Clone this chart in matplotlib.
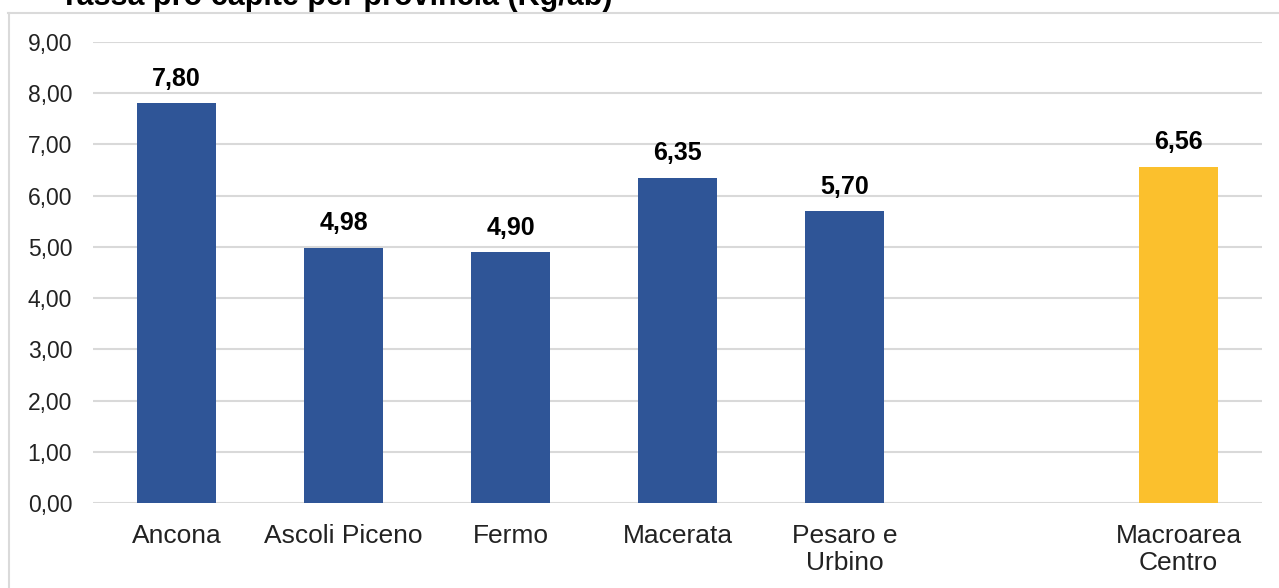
import matplotlib.pyplot as plt
from matplotlib.lines import Line2D

plt.rcParams['font.family'] = ['Liberation Sans', 'DejaVu Sans']

# data
categories = ['Ancona', 'Ascoli Piceno', 'Fermo', 'Macerata', 'Pesaro e\nUrbino', '', 'Macroarea\nCentro']
values = [7.80, 4.98, 4.90, 6.35, 5.70, None, 6.56]
colors = ['#2F5597', '#2F5597', '#2F5597', '#2F5597', '#2F5597', None, '#FBC02D']
yticks = [0, 1, 2, 3, 4, 5, 6, 7, 8, 9]

fig = plt.figure(figsize=(12.79, 5.88), dpi=100)
ax = fig.add_axes([93 / 1279, 1 - 503 / 588, (1262 - 93) / 1279, (503 - 42) / 588])

xs = [i for i, v in enumerate(values) if v is not None]
vals = [v for v in values if v is not None]
cols = [c for c in colors if c is not None]
bars = ax.bar(xs, vals, width=0.47, color=cols, zorder=3)

for x, v in zip(xs, vals):
    ax.annotate('{:.2f}'.format(v).replace('.', ','), (x, v), xytext=(0, 9),
                textcoords='offset points', ha='center', va='bottom',
                fontsize=18, fontweight='bold', color='black')

ax.set_xlim(-0.5, 6.5)
ax.set_ylim(0, 9)
ax.set_yticks(yticks)
ax.set_yticklabels(['{:.2f}'.format(t).replace('.', ',') for t in yticks])
ax.set_xticks(range(len(categories)))
ax.set_xticklabels(categories, linespacing=1.15)
ax.tick_params(axis='y', length=0, pad=15, labelsize=16.5, labelcolor='#222222')
ax.tick_params(axis='x', length=0, pad=15, labelsize=19, labelcolor='#222222')
ax.grid(axis='y', color='#D9D9D9', linewidth=1.5, zorder=0)
for s in ax.spines.values():
    s.set_visible(False)

# outer chart frame (top and left edges only visible)
fig.add_artist(Line2D([8 / 1279, 1], [1 - 12.5 / 588, 1 - 12.5 / 588],
                      transform=fig.transFigure, color='#DADADA', linewidth=1.5))
fig.add_artist(Line2D([9 / 1279, 9 / 1279], [0, 1 - 12.5 / 588],
                      transform=fig.transFigure, color='#DADADA', linewidth=1.5))

# title, cut off at the top of the picture
fig.text(612 / 1279, 1 - 5 / 588, 'Tassa pro capite per provincia (Kg/ab)',
         ha='right', va='baseline', fontsize=22, fontweight='bold', color='black')

fig.savefig('out.png', dpi=100)
